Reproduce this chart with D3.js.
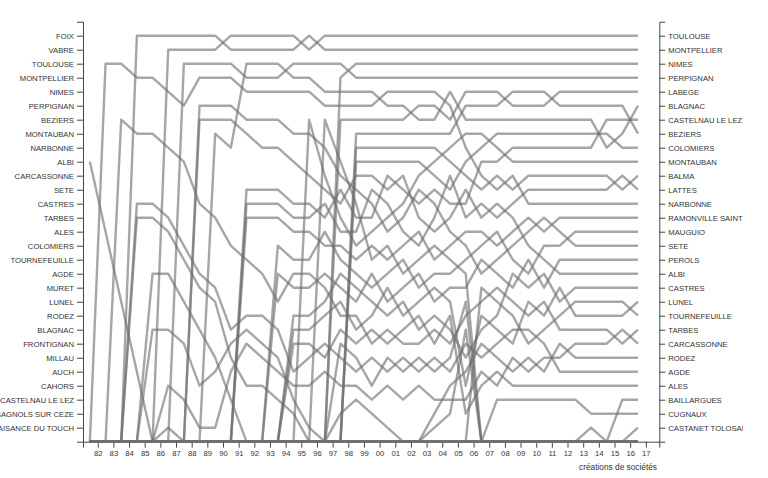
<!DOCTYPE html>
<html><head><meta charset="utf-8">
<script src="https://cdn.jsdelivr.net/npm/d3@7"></script>
<style>
body{margin:0;background:#fff;}
svg{display:block;font-family:"Liberation Sans",Arial,sans-serif;}
</style></head><body>
<script>
const years = ["82","83","84","85","86","87","88","89","90","91","92","93","94","95","96","97","98","99","00","01","02","03","04","05","06","07","08","09","10","11","12","13","14","15","16","17"];
const leftLabels = ["FOIX","VABRE","TOULOUSE","MONTPELLIER","NIMES","PERPIGNAN","BEZIERS","MONTAUBAN","NARBONNE","ALBI","CARCASSONNE","SETE","CASTRES","TARBES","ALES","COLOMIERS","TOURNEFEUILLE","AGDE","MURET","LUNEL","RODEZ","BLAGNAC","FRONTIGNAN","MILLAU","AUCH","CAHORS","CASTELNAU LE LEZ","BAGNOLS SUR CEZE","PLAISANCE DU TOUCH"];
const rightLabels = ["TOULOUSE","MONTPELLIER","NIMES","PERPIGNAN","LABEGE","BLAGNAC","CASTELNAU LE LEZ","BEZIERS","COLOMIERS","MONTAUBAN","BALMA","LATTES","NARBONNE","RAMONVILLE SAINT","MAUGUIO","SETE","PEROLS","ALBI","CASTRES","LUNEL","TOURNEFEUILLE","TARBES","CARCASSONNE","RODEZ","AGDE","ALES","BAILLARGUES","CUGNAUX","CASTANET TOLOSAN"];
const OUT = 30; // not ranked: drawn on the baseline

// yearly ranks, one value per year 82..17
const toulouse    = [30,30,30,30,30,2, 2,2,2,1,1,1, 1,1,2,1,1,1, 1,1,1,1,1,1, 1,1,1,1,1,1, 1,1,1,1,1,1];
const montpellier = [30,30,30,1,1,1, 1,1,1,2,2,2, 2,2,1,2,2,2, 2,2,2,2,2,2, 2,2,2,2,2,2, 2,2,2,2,2,2];
const nimes       = [30,30,30,30,30,30, 30,30,30,30,30,30, 30,30,30,30,4,3, 3,3,3,3,3,3, 3,3,3,3,3,3, 3,3,3,3,3,3];
const perpignan   = [30,30,30,30,30,30, 3,3,3,3,4,4, 4,3,3,3,3,4, 4,4,4,4,4,4, 4,4,4,4,4,4, 4,4,4,4,4,4];
const labege      = [30,30,30,30,30,30, 30,30,30,30,30,30, 30,30,30,30,7,7, 7,7,7,6,6,7, 5,5,5,6,6,6, 5,5,5,5,5,5];
const blagnac     = [30,30,30,30,30,30, 30,30,8,9,3,3, 3,4,4,5,5,5, 5,6,6,7,7,5, 7,7,7,7,7,7, 7,7,7,9,8,6];
const castelnau   = [30,30,30,30,30,30, 30,30,30,30,12,12, 12,13,13,14,12,14, 14,11,12,13,12,13, 13,10,10,9,9,9, 9,9,9,7,7,7];
const beziers     = [30,30,30,30,30,30, 30,30,30,30,30,30, 30,30,30,30,30,8, 8,8,8,8,8,8, 6,6,6,5,5,5, 6,6,6,6,6,8];
const colomiers   = [30,30,30,30,30,30, 30,30,30,30,30,30, 30,30,30,30,30,10, 10,10,10,10,11,12, 10,9,8,8,8,8, 8,8,8,8,9,9];
const montauban   = [30,30,30,30,30,30, 30,30,30,30,30,30, 30,30,7,11,14,16, 15,14,13,11,10,9, 8,8,9,10,10,10, 10,10,10,10,10,10];
const balma       = [30,30,30,30,30,30, 30,30,30,30,30,30, 30,30,30,30,30,9, 9,9,9,9,9,10, 11,12,11,12,11,11, 11,11,11,11,12,11];
const lattes      = [30,30,30,30,30,30, 30,30,30,30,13,13, 13,14,14,13,15,15, 12,13,15,16,14,11, 14,13,14,13,12,12, 12,12,12,12,11,12];
const narbonne    = [30,3,3,4,4,5, 6,4,4,4,5,5, 5,5,5,6,6,6, 6,5,5,5,5,6, 9,11,12,11,13,13, 13,13,13,13,13,13];
const ramonville  = [30,30,30,30,30,30, 30,30,30,30,14,14, 14,15,15,16,16,17, 16,17,16,15,17,16, 15,15,16,15,14,15, 14,14,14,14,14,14];
const mauguio     = [30,30,30,30,30,30, 30,30,30,30,30,30, 16,17,17,15,17,18, 19,18,17,19,18,18, 17,16,15,17,18,16, 16,15,15,15,15,15];
const sete        = [30,30,30,30,30,30, 30,6,6,6,7,7, 7,8,8,9,11,12, 13,15,14,12,13,15, 16,18,17,16,15,14, 15,16,16,16,16,16];
const perols      = [30,30,30,30,30,30, 30,30,30,30,30,30, 18,19,19,18,19,20, 18,20,19,18,20,19, 19,17,18,19,17,19, 17,17,17,17,17,17];
const albi        = [30,30,30,30,30,30, 30,7,7,7,8,9, 9,10,11,12,13,11, 11,12,11,14,15,14, 12,14,13,14,16,17, 18,18,18,18,18,18];
const castres     = [30,30,30,30,30,30, 30,30,30,30,30,30, 30,21,21,20,18,19, 20,21,20,22,21,22, 24,22,21,18,19,18, 20,19,19,19,19,19];
const lunel       = [30,30,30,30,30,30, 30,30,30,30,30,30, 30,22,22,21,20,22, 21,19,21,20,19,20, 26,21,22,23,20,21, 19,21,21,21,21,20];
const tournefeuille=[30,30,30,30,30,29, 30,30,30,30,30,30, 30,30,30,30,30,30, 30,30,30,30,30,30, 30,19,20,21,23,22, 21,20,20,20,20,21];
const tarbes      = [30,30,7,8,8,9, 10,13,14,16,17,18, 20,18,18,19,21,21, 23,22,23,23,22,23, 21,20,19,20,21,20, 22,22,22,22,23,22];
const carcassonne = [30,30,30,30,30,26, 27,29,29,25,23,24, 25,26,26,25,26,26, 27,26,27,26,27,27, 27,25,26,24,25,24, 24,23,23,23,22,23];
const rodez       = [30,30,30,30,30,30, 30,30,30,30,30,30, 30,30,30,30,30,30, 30,30,30,30,28,26, 25,23,24,25,24,25, 23,24,24,24,24,24];
const agde        = [30,30,30,13,13,14, 16,18,19,22,21,21, 22,25,24,23,24,25, 24,25,24,25,24,25, 23,24,23,22,22,23, 25,25,25,25,25,25];
const ales        = [30,30,30,30,30,30, 30,30,30,30,30,30, 30,23,23,24,22,23, 22,23,22,21,23,21, 28,26,25,26,26,26, 26,26,26,26,26,26];
const baillargues = [30,30,30,30,30,30, 30,30,30,30,30,30, 30,30,30,30,30,30, 30,30,30,30,30,30, 30,30,30,30,30,30, 30,30,30,30,27,27];
const cugnaux     = [30,30,30,30,30,30, 30,30,30,30,30,30, 30,30,30,30,28,27, 28,29,30,30,30,30, 30,30,27,27,27,27, 27,27,28,28,28,28];
const castanet    = [30,30,30,30,30,30, 30,30,30,30,30,30, 30,30,30,30,30,30, 30,30,30,30,30,30, 30,30,30,30,30,30, 30,30,30,30,30,29];
const foix        = [10,15,20,25,30,30, 30,30,30,30,30,30, 30,30,30,30,30,30, 30,30,30,30,30,30, 30,30,30,30,30,30, 30,30,30,30,30,30];
const muret       = [30,30,30,14,14,15, 17,19,20,24,26,26, 27,28,30,30,30,30, 30,30,30,30,30,30, 30,30,30,30,30,30, 30,30,30,30,30,30];
const frontignan  = [30,30,30,30,18,18, 20,22,24,27,30,30, 30,30,30,30,30,30, 30,30,30,30,30,30, 30,30,30,30,30,30, 30,30,30,30,30,30];
const millau      = [30,30,30,30,22,22, 23,26,25,23,22,23, 24,27,29,30,30,30, 30,30,30,30,30,30, 30,30,30,30,30,30, 30,30,30,30,30,30];
const auch        = [30,30,30,30,30,30, 30,30,30,30,30,30, 30,30,30,7,10,13, 17,16,18,17,16,17, 18,30,30,30,30,30, 30,30,30,30,30,30];
const cahors      = [30,30,30,30,30,30, 30,30,30,30,30,30, 30,30,30,30,23,24, 26,24,25,24,25,24, 20,30,30,30,30,30, 30,30,30,30,30,30];
const bagnols     = [30,30,30,30,30,30, 30,30,30,30,30,30, 30,30,30,30,30,30, 30,30,30,30,29,28, 22,30,30,30,30,30, 30,30,30,30,30,30];
const plaisance   = [30,30,30,30,30,30, 30,30,30,30,30,30, 30,30,30,30,30,30, 30,30,30,30,30,30, 30,30,30,30,30,30, 30,30,29,30,30,30];

const series = [foix,muret,frontignan,millau,auch,cahors,bagnols,plaisance,
  toulouse,montpellier,nimes,perpignan,labege,blagnac,castelnau,beziers,colomiers,montauban,
  balma,lattes,narbonne,ramonville,mauguio,sete,perols,albi,castres,lunel,tournefeuille,
  tarbes,carcassonne,rodez,agde,ales,baillargues,cugnaux,castanet];

const W = 743, H = 478;
const svg = d3.select("body").append("svg").attr("width", W).attr("height", H);

const x = d3.scaleLinear().domain([-0.94, 35.86]).range([83, 659.3]);
const y = d3.scaleLinear().domain([0, OUT]).range([21.7, 441.7]);

const axisColor = "#444";
const gL = svg.append("g").attr("transform", "translate(83,0)")
  .call(d3.axisLeft(y).tickValues(d3.range(1, 30)).tickFormat(r => leftLabels[r - 1]));
const gR = svg.append("g").attr("transform", "translate(659.3,0)")
  .call(d3.axisRight(y).tickValues(d3.range(1, 30)).tickFormat(r => rightLabels[r - 1]));
const gB = svg.append("g").attr("transform", "translate(0,441.7)")
  .call(d3.axisBottom(x).tickValues(d3.range(0, 36)).tickFormat(i => years[i]));
[gL, gR, gB].forEach(g => {
  g.attr("color", axisColor).attr("font-family", '"Liberation Sans",Arial,sans-serif').attr("font-size", 7.7);
  g.selectAll("text").attr("fill", "#333");
});

const line = d3.line().x((d, i) => x(i - 0.5)).y(d => y(d));
svg.append("g").selectAll("path").data(series).join("path")
  .attr("d", line)
  .attr("fill", "none")
  .attr("stroke", "#707070")
  .attr("stroke-opacity", 0.62)
  .attr("stroke-width", 2.4)
  .attr("stroke-linejoin", "round");

svg.append("text").attr("x", 657).attr("y", 470).attr("text-anchor", "end")
  .attr("font-size", 8.3).attr("fill", "#333").text("créations de sociétés");
</script>
</body></html>
